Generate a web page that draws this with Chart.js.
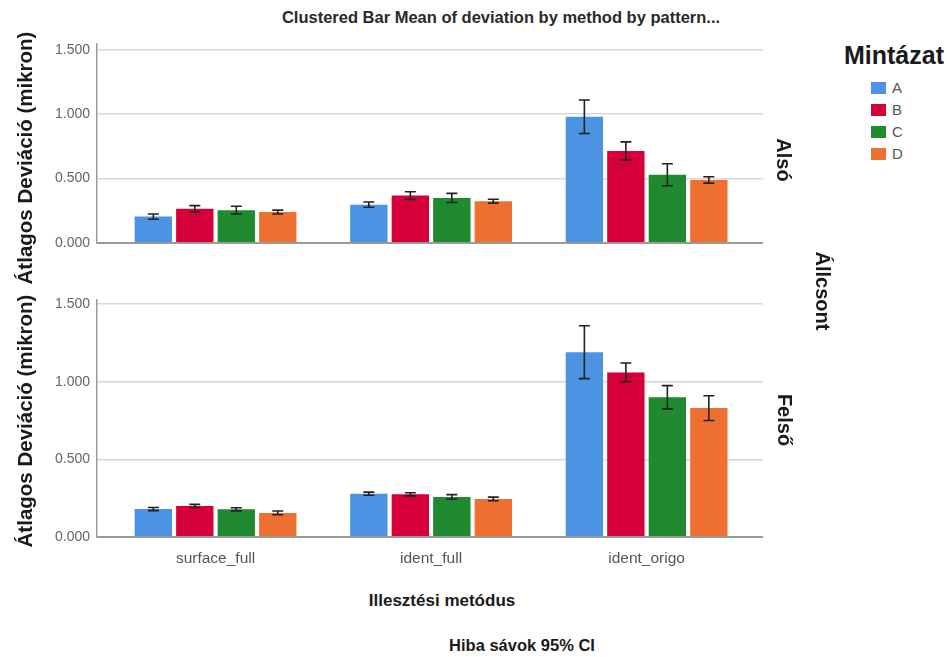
<!DOCTYPE html>
<html>
<head>
<meta charset="utf-8">
<script src="https://cdn.jsdelivr.net/npm/chart.js@4.4.1/dist/chart.umd.min.js"></script>
<style>
  html, body { margin: 0; padding: 0; background: #fff; }
  #wrap { position: relative; width: 947px; height: 657px; overflow: hidden; font-family: "Liberation Sans", Arial, sans-serif; }
  canvas { position: absolute; }
  .lbl { position: absolute; white-space: nowrap; color: #1a1a1a; font-weight: bold; }
  .rot-l { transform: translate(-50%, -50%) rotate(-90deg); }
  .rot-r { transform: translate(-50%, -50%) rotate(90deg); }
  .ctr { transform: translate(-50%, -50%); }
  .leg { position: absolute; left: 871px; font-size: 15px; color: #555; }
  .leg span { display: inline-block; width: 15px; height: 12px; vertical-align: -1px; margin-right: 6px; }
</style>
</head>
<body>
<div id="wrap">
  <canvas id="topChart" style="left:0;top:28px;width:780px;height:265px" width="780" height="265"></canvas>
  <canvas id="botChart" style="left:0;top:284px;width:780px;height:293px" width="780" height="293"></canvas>

  <div class="lbl ctr" style="left:501px;top:17px;font-size:16.5px;color:#2a2a2a;">Clustered Bar Mean of deviation by method by pattern...</div>
  <div class="lbl rot-l" style="left:25px;top:158px;font-size:20.5px;">Átlagos Deviáció (mikron)</div>
  <div class="lbl rot-l" style="left:25px;top:421px;font-size:20.5px;">Átlagos Deviáció (mikron)</div>
  <div class="lbl rot-r" style="left:783px;top:160px;font-size:20px;">Alsó</div>
  <div class="lbl rot-r" style="left:784px;top:420px;font-size:20px;">Felső</div>
  <div class="lbl rot-r" style="left:822px;top:291px;font-size:20px;">Állcsont</div>
  <div class="lbl ctr" style="left:442px;top:601px;font-size:17px;">Illesztési metódus</div>
  <div class="lbl ctr" style="left:522px;top:645px;font-size:16.5px;">Hiba sávok 95% CI</div>
  <div class="lbl ctr" style="left:894px;top:55px;font-size:25px;">Mintázat</div>
  <div id="legend"></div>
</div>
<script>
// kategóriák és minták
var categories = ["surface_full", "ident_full", "ident_origo"];
var patterns = ["A", "B", "C", "D"];
var colors = ["#4c93e3", "#d5003a", "#1f8a2f", "#ee7030"];
var yTicks = [0, 0.5, 1, 1.5];

// Alsó állcsont - átlagok
var alsoA = [0.205, 0.298, 0.980];
var alsoB = [0.265, 0.368, 0.715];
var alsoC = [0.255, 0.350, 0.530];
var alsoD = [0.240, 0.325, 0.490];
// Alsó - 95% CI fél-szélesség
var alsoErrA = [0.020, 0.020, 0.130];
var alsoErrB = [0.025, 0.030, 0.070];
var alsoErrC = [0.030, 0.035, 0.085];
var alsoErrD = [0.015, 0.015, 0.025];

// Felső állcsont - átlagok
var felsoA = [0.180, 0.279, 1.190];
var felsoB = [0.200, 0.275, 1.060];
var felsoC = [0.178, 0.258, 0.900];
var felsoD = [0.155, 0.245, 0.830];
// Felső - 95% CI fél-szélesség
var felsoErrA = [0.010, 0.010, 0.170];
var felsoErrB = [0.010, 0.010, 0.060];
var felsoErrC = [0.010, 0.015, 0.075];
var felsoErrD = [0.012, 0.012, 0.080];

// legenda
var legend = document.getElementById("legend");
patterns.forEach(function (p, i) {
  var d = document.createElement("div");
  d.className = "leg";
  d.style.top = (79 + i * 22) + "px";
  d.innerHTML = '<span style="background:' + colors[i] + '"></span>' + p;
  legend.appendChild(d);
});

function makeDatasets(means, errs) {
  return patterns.map(function (p, i) {
    return {
      label: p,
      data: means[i].map(function (v, j) { return { x: j, y: v }; }),
      errors: errs[i],
      backgroundColor: colors[i],
      borderWidth: 0,
      stack: p,
      barPercentage: 0.9,
      categoryPercentage: 0.77,
    };
  });
}

// hibasávok rajzolása
var errorBars = {
  id: "errorBars",
  afterDatasetsDraw: function (chart) {
    var ctx = chart.ctx;
    var yScale = chart.scales.y;
    ctx.save();
    ctx.strokeStyle = "#222";
    ctx.lineWidth = 1.6;
    chart.data.datasets.forEach(function (ds, i) {
      var meta = chart.getDatasetMeta(i);
      meta.data.forEach(function (bar, j) {
        var v = ds.data[j].y;
        var e = ds.errors[j];
        var yHi = yScale.getPixelForValue(v + e);
        var yLo = yScale.getPixelForValue(v - e);
        var x = bar.x;
        ctx.beginPath();
        ctx.moveTo(x, yHi);
        ctx.lineTo(x, yLo);
        ctx.moveTo(x - 5.5, yHi);
        ctx.lineTo(x + 5.5, yHi);
        ctx.moveTo(x - 5.5, yLo);
        ctx.lineTo(x + 5.5, yLo);
        ctx.stroke();
      });
    });
    ctx.restore();
  },
};

function makeOptions(yMax, showX) {
  return {
    responsive: false,
    animation: false,
    layout: { padding: { top: 10, bottom: showX ? 0 : 10, left: 0, right: 17 } },
    plugins: { legend: { display: false }, tooltip: { enabled: false } },
    scales: {
      x: {
        type: "linear",
        display: showX,
        offset: false,
        min: -0.55,
        max: 2.54,
        afterBuildTicks: function (scale) {
          scale.ticks = categories.map(function (c, i) { return { value: i }; });
        },
        afterFit: function (scale) { scale.height = 40; },
        grid: { display: false, drawTicks: false, offset: false },
        border: { display: false },
        ticks: {
          padding: 12,
          color: "#555",
          font: { size: 15.5, family: "Liberation Sans" },
          callback: function (value) { return categories[value]; },
        },
      },
      y: {
        min: 0,
        max: yMax,
        afterBuildTicks: function (scale) {
          scale.ticks = yTicks.map(function (v) { return { value: v }; });
        },
        afterFit: function (scale) { scale.width = 97; },
        border: { display: true, color: "#9a9a9a", width: 1.5 },
        grid: {
          drawTicks: false,
          color: function (c) { return c.tick && c.tick.value === 0 ? "#9a9a9a" : "#d8d8d8"; },
          lineWidth: function (c) { return c.tick && c.tick.value === 0 ? 2 : 1.5; },
        },
        ticks: {
          padding: 7,
          color: "#666",
          font: { size: 14, family: "Liberation Sans" },
          callback: function (value) { return value.toFixed(3); },
        },
      },
    },
  };
}

new Chart(document.getElementById("topChart"), {
  type: "bar",
  data: { datasets: makeDatasets([alsoA, alsoB, alsoC, alsoD], [alsoErrA, alsoErrB, alsoErrC, alsoErrD]) },
  options: makeOptions(1.55, false),
  plugins: [errorBars],
});

new Chart(document.getElementById("botChart"), {
  type: "bar",
  data: { datasets: makeDatasets([felsoA, felsoB, felsoC, felsoD], [felsoErrA, felsoErrB, felsoErrC, felsoErrD]) },
  options: makeOptions(1.53, true),
  plugins: [errorBars],
});
</script>
</body>
</html>
